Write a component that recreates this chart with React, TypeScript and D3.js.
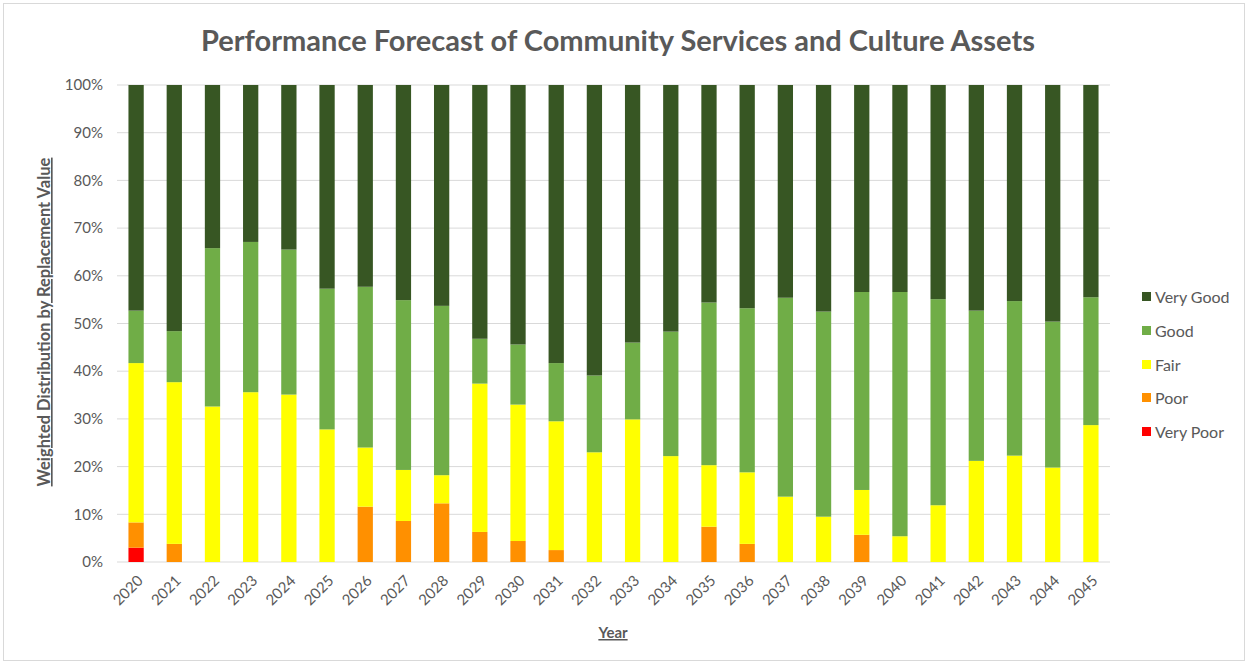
import React from "react";
import * as d3 from "d3";

const years = ["2020","2021","2022","2023","2024","2025","2026","2027","2028","2029","2030","2031","2032","2033","2034","2035","2036","2037","2038","2039","2040","2041","2042","2043","2044","2045"];
const veryPoor = [3.0,0,0,0,0,0,0,0,0,0,0,0,0,0,0,0,0,0,0,0,0,0,0,0,0,0];
const poor = [5.3,3.8,0,0,0,0,11.6,8.6,12.3,6.3,4.4,2.5,0,0,0,7.4,3.8,0,0,5.7,0,0,0,0,0,0];
const fair = [33.4,33.9,32.6,35.6,35.1,27.8,12.4,10.7,5.9,31.1,28.6,27.0,23.0,29.9,22.2,12.9,15.0,13.7,9.5,9.4,5.4,11.9,21.2,22.3,19.8,28.7];
const good = [11.0,10.7,33.2,31.5,30.4,29.5,33.7,35.6,35.5,9.4,12.6,12.2,16.1,16.1,26.1,34.1,34.4,41.7,43.0,41.5,51.2,43.2,31.5,32.4,30.6,26.8];
const veryGood = [47.3,51.6,34.2,32.9,34.5,42.7,42.3,45.1,46.3,53.2,54.4,58.3,60.9,54.0,51.7,45.6,46.8,44.6,47.5,43.4,43.4,44.9,47.3,45.3,49.6,44.5];
const seriesNames = ["Very Poor","Poor","Fair","Good","Very Good"];
const seriesColors = ["#FF0000","#FF9000","#FFFF00","#70AD47","#375623"];
const yTicks = [0,10,20,30,40,50,60,70,80,90,100];

const W = 1252, H = 666;
const M = { left: 117, right: 1110, top: 85, bottom: 562 };

export default function App() {
  const data = years.map((y, i) => ({
    year: y, "Very Poor": veryPoor[i], Poor: poor[i], Fair: fair[i], Good: good[i], "Very Good": veryGood[i],
  }));
  const stack = d3.stack<any>().keys(seriesNames)(data);
  const x = d3.scaleBand<string>().domain(years).range([M.left, M.right]).paddingInner(0.6).paddingOuter(0.3);
  const y = d3.scaleLinear().domain([0, 100]).range([M.bottom, M.top]);
  const gray = "#595959";
  const font = "Lato, 'Open Sans', sans-serif";
  const legendY = [432, 398, 365, 331, 297];

  return (
    <div style={{ position: "absolute", left: 0, top: 0 }}>
      <svg width={W} height={H} style={{ display: "block", background: "#fff" }} fontFamily={font}>
        <rect x={3.5} y={3.5} width={1241} height={657} fill="#fff" stroke="#d9d9d9" />
        <text x={618} y={51} textAnchor="middle" fontSize={29} fontWeight="bold" fill={gray}>
          Performance Forecast of Community Services and Culture Assets
        </text>
        {yTicks.map((t) => (
          <g key={t}>
            <line x1={M.left} x2={M.right} y1={y(t)} y2={y(t)} stroke="#d9d9d9" strokeWidth={1} />
            <text x={103} y={y(t)} dy="0.35em" textAnchor="end" fontSize={15} fill={gray}>{t}%</text>
          </g>
        ))}
        {stack.map((s, si) => (
          <g key={s.key} fill={seriesColors[si]}>
            {s.map((d, i) => (
              <rect key={i} x={x(years[i])} width={x.bandwidth()} y={y(d[1])} height={Math.max(0, y(d[0]) - y(d[1]))} />
            ))}
          </g>
        ))}
        {years.map((yr) => {
          const cx = (x(yr) as number) + x.bandwidth() / 2;
          return (
            <text key={yr} transform={`translate(${cx + 4},${578}) rotate(-45)`} textAnchor="end" dy="0.35em" fontSize={15} fill={gray}>
              {yr}
            </text>
          );
        })}
        <text x={613} y={638} textAnchor="middle" fontSize={15} fontWeight="bold" fill={gray} textDecoration="underline">Year</text>
        <text transform={`translate(50,${322}) rotate(-90)`} textAnchor="middle" fontSize={16.5} fontWeight="bold" fill={gray} textDecoration="underline">
          Weighted Distribution by Replacement Value
        </text>
        {seriesNames.map((n, i) => (
          <g key={n}>
            <rect x={1142} y={legendY[i] - 5} width={9} height={9} fill={seriesColors[i]} />
            <text x={1155} y={legendY[i]} dy="0.35em" fontSize={16} fill={gray}>{n}</text>
          </g>
        ))}
      </svg>
    </div>
  );
}
